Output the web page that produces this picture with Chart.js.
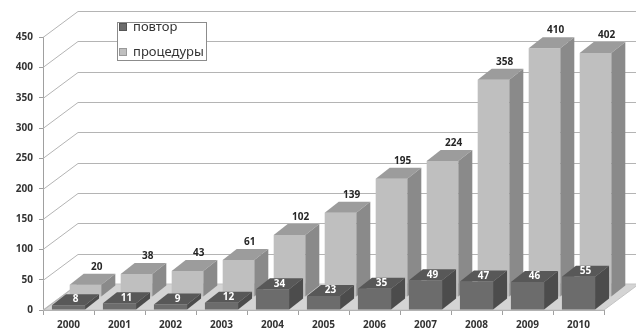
<!DOCTYPE html>
<html>
<head>
<meta charset="utf-8">
<script src="https://cdn.jsdelivr.net/npm/chart.js@4/dist/chart.umd.min.js"></script>
<style>
html,body{margin:0;padding:0;background:#fff;}
#wrap{width:636px;height:333px;position:relative;}
</style>
</head>
<body>
<div id="wrap"><canvas id="c" width="636" height="333"></canvas></div>
<script>
const years = ['2000','2001','2002','2003','2004','2005','2006','2007','2008','2009','2010'];
const povtor = [8, 11, 9, 12, 34, 23, 35, 49, 47, 46, 55];
const procedury = [20, 38, 43, 61, 102, 139, 195, 224, 358, 410, 402];
const seriesNames = ['повтор', 'процедуры'];
const yTicks = {min: 0, max: 450, step: 50};

// 3D geometry (pixels)
const WALL = {dx: 35, dy: -26};
const BAR = {dx: 14, dy: -11};
const ROW2 = {dx: 17, dy: -13};

const styles = [
  {front: '#6c6c6c', top: '#585858', side: '#4c4c4c', label: '#ffffff'},
  {front: '#bfbfbf', top: '#9c9c9c', side: '#8a8a8a', label: '#262626'}
];

const fontFamily = '"Open Sans", "Noto Sans", sans-serif';
const numFont = 'bold 10px ' + fontFamily;

const threeD = {
  id: 'threeD',
  beforeDatasetsDraw(chart) {
    const {ctx, chartArea: a, scales: {y}} = chart;
    ctx.save();
    // floor
    ctx.beginPath();
    ctx.moveTo(a.left, a.bottom);
    ctx.lineTo(a.right, a.bottom);
    ctx.lineTo(a.right + WALL.dx, a.bottom + WALL.dy);
    ctx.lineTo(a.left + WALL.dx, a.bottom + WALL.dy);
    ctx.closePath();
    ctx.fillStyle = '#d4d4d4';
    ctx.fill();
    ctx.strokeStyle = '#c4c4c4';
    ctx.lineWidth = 1;
    ctx.stroke();
    // gridlines on side + back wall
    ctx.strokeStyle = '#b4b4b4';
    ctx.lineWidth = 1;
    for (let v = yTicks.min; v <= yTicks.max; v += yTicks.step) {
      const py = Math.round(y.getPixelForValue(v)) + 0.5;
      ctx.beginPath();
      ctx.moveTo(a.left, py);
      ctx.lineTo(a.left + WALL.dx, py + WALL.dy);
      if (v > 0) ctx.lineTo(chart.width, py + WALL.dy);
      ctx.stroke();
    }
    ctx.restore();
  },
  beforeDatasetDraw(chart, args) {
    if (args.index === 1) {
      chart.ctx.save();
      chart.ctx.translate(ROW2.dx, ROW2.dy);
    }
  },
  afterDatasetDraw(chart, args) {
    const {ctx} = chart;
    const st = styles[args.index];
    const meta = args.meta;
    meta.data.forEach(el => {
      const {x, y, base, width} = el.getProps(['x', 'y', 'base', 'width'], true);
      const l = x - width / 2, r = x + width / 2;
      ctx.beginPath();
      ctx.moveTo(l, y);
      ctx.lineTo(r, y);
      ctx.lineTo(r + BAR.dx, y + BAR.dy);
      ctx.lineTo(l + BAR.dx, y + BAR.dy);
      ctx.closePath();
      ctx.fillStyle = st.top;
      ctx.fill();
      ctx.beginPath();
      ctx.moveTo(r, y);
      ctx.lineTo(r + BAR.dx, y + BAR.dy);
      ctx.lineTo(r + BAR.dx, base + BAR.dy);
      ctx.lineTo(r, base);
      ctx.closePath();
      ctx.fillStyle = st.side;
      ctx.fill();
    });
    if (args.index === 1) ctx.restore();
  },
  afterDatasetsDraw(chart) {
    const {ctx} = chart;
    ctx.save();
    ctx.font = numFont;
    ctx.textAlign = 'center';
    ctx.textBaseline = 'middle';
    chart.data.datasets.forEach((ds, i) => {
      const meta = chart.getDatasetMeta(i);
      meta.data.forEach((el, j) => {
        const {x, y} = el.getProps(['x', 'y'], true);
        ctx.fillStyle = styles[i].label;
        if (i === 0) {
          ctx.fillText(String(ds.data[j]), x + BAR.dx / 2, y + BAR.dy / 2);
        } else {
          ctx.fillText(String(ds.data[j]), x + ROW2.dx + BAR.dx * 0.8, y + ROW2.dy + BAR.dy - 7);
        }
      });
    });
    // legend
    const lx = 117.5, ly = 22.5, lw = 89, lh = 38;
    ctx.fillStyle = '#ffffff';
    ctx.fillRect(lx, ly, lw, lh);
    ctx.strokeStyle = '#8c8c8c';
    ctx.lineWidth = 1;
    ctx.strokeRect(lx, ly, lw, lh);
    ctx.font = '13px "Noto Sans", "Open Sans", sans-serif';
    ctx.textAlign = 'left';
    chart.data.datasets.forEach((ds, i) => {
      const cy = 27 + i * 25;
      ctx.fillStyle = styles[i].front;
      ctx.fillRect(119, cy - 4, 8, 8);
      ctx.strokeStyle = i === 0 ? '#555' : '#999';
      ctx.strokeRect(119.5, cy - 3.5, 7, 7);
      ctx.fillStyle = '#333333';
      ctx.fillText(ds.label, 133, cy);
    });
    ctx.restore();
  }
};

new Chart(document.getElementById('c'), {
  type: 'bar',
  data: {
    labels: years,
    datasets: [
      {label: seriesNames[0], data: povtor, backgroundColor: styles[0].front, grouped: false,
       categoryPercentage: 1, barPercentage: 0.65},
      {label: seriesNames[1], data: procedury, backgroundColor: styles[1].front, grouped: false,
       categoryPercentage: 1, barPercentage: 0.62}
    ]
  },
  options: {
    responsive: false,
    animation: false,
    events: [],
    layout: {padding: {top: 37, right: 32, left: 0, bottom: 0}},
    plugins: {legend: {display: false}, tooltip: {enabled: false}},
    scales: {
      x: {
        offset: true,
        grid: {display: true, drawOnChartArea: false, drawTicks: true, tickLength: 5, color: '#a0a0a0', offset: true},
        border: {display: true, color: '#a0a0a0'},
        ticks: {font: {family: fontFamily, size: 10, weight: 'bold'}, color: '#333333', padding: 4, maxRotation: 0},
        afterFit(s) { s.height = 23; }
      },
      y: {
        min: yTicks.min, max: yTicks.max,
        grid: {display: true, drawOnChartArea: false, drawTicks: true, tickLength: 4, color: '#a0a0a0'},
        border: {display: true, color: '#a0a0a0'},
        ticks: {stepSize: yTicks.step, font: {family: fontFamily, size: 10, weight: 'bold'}, color: '#333333', padding: 6},
        afterFit(s) { s.width = 43; }
      }
    }
  },
  plugins: [threeD]
});
</script>
</body>
</html>
